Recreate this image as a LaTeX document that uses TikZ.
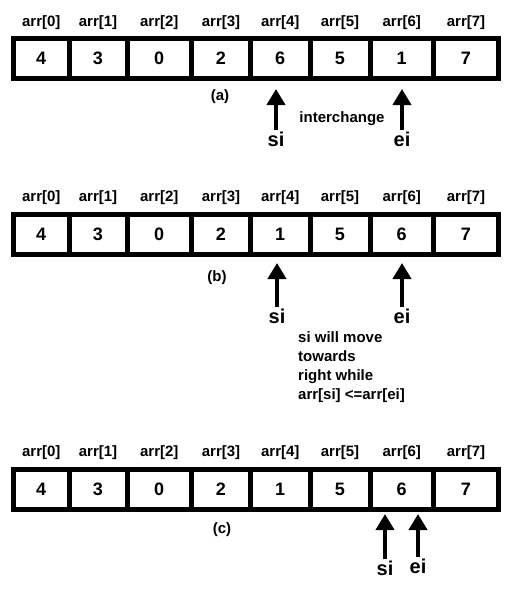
\documentclass[tikz,border=0pt]{standalone}
\usepackage{fontspec}
\setmainfont{Liberation Sans}
\usetikzlibrary{arrows.meta}

\begin{document}
\begin{tikzpicture}[
x=1pt,y=-1pt,
cell/.style={draw,line width=5pt,minimum height=40pt,inner sep=0pt,font=\bfseries\fontsize{18}{20}\selectfont},
lbl/.style={inner sep=1pt,font=\bfseries\fontsize{15}{17}\selectfont},
idx/.style={inner sep=1pt,font=\bfseries\fontsize{20}{22}\selectfont},
ptr/.style={-{Triangle[width=18pt,length=16pt]},line width=4pt}]
\useasboundingbox (0,0) rectangle (510,592);
\def\bnd{{13.5,69,127,191.5,250.5,310,370,433.5,498.5}}
% the three array states
\foreach \r/\y/\vals in {a/58.5/{4,3,0,2,6,5,1,7},b/234/{4,3,0,2,1,5,6,7},c/489/{4,3,0,2,1,5,6,7}}{
  \foreach \v [count=\i from 0] in \vals {
    \pgfmathsetmacro\xl{\bnd[\i]}
    \pgfmathsetmacro\xr{\bnd[\i+1]}
    \pgfmathsetmacro\w{\xr-\xl}
    \pgfmathsetmacro\xc{(\xl+\xr)/2}
    \node[cell,minimum width=\w pt] (\r\i) at (\xc,\y) {\v};
    \node[lbl] (\r l\i) at (\xc,\y-36) {arr[\i]};
  }
}
% (a)
\node[lbl] (capa) at (220,97) {(a)};
\node[idx] (sia) at (276,139) {si};
\node[idx] (eia) at (402,139) {ei};
\coordinate (sia-tip) at (276,89);
\coordinate (eia-tip) at (402,89);
\draw[ptr] (sia.north) -- (sia-tip);
\draw[ptr] (eia.north) -- (eia-tip);
\node[lbl] (swap) at (342,119) {interchange};
% (b)
\node[lbl] (capb) at (217,278) {(b)};
\node[idx] (sib) at (277,316) {si};
\node[idx] (eib) at (402,316) {ei};
\coordinate (sib-tip) at (277,263);
\coordinate (eib-tip) at (402,263);
\draw[ptr] (sib.north) -- (sib-tip);
\draw[ptr] (eib.north) -- (eib-tip);
\node[lbl,anchor=north west,align=left,font=\bfseries\fontsize{15}{19}\selectfont] (rule) at (297,330)
  {si will move\\towards\\right while\\arr[si] <=arr[ei]};
% (c)
\node[lbl] (capc) at (222,530) {(c)};
\node[idx] (sic) at (385,568) {si};
\node[idx] (eic) at (418,566) {ei};
\coordinate (sic-tip) at (385,514);
\coordinate (eic-tip) at (418,514);
\draw[ptr] (sic.north) -- (sic-tip);
\draw[ptr] (eic.north) -- (eic-tip);
\end{tikzpicture}
\end{document}
